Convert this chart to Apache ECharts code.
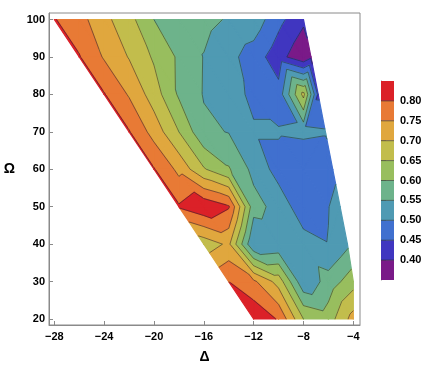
<!DOCTYPE html>
<html>
<head>
<meta charset="utf-8">
<script src="https://cdn.jsdelivr.net/npm/echarts@6/dist/echarts.min.js"></script>
<style>
  html, body { margin: 0; padding: 0; background: #fff; }
  #chart { width: 444px; height: 370px; }
</style>
</head>
<body>
<div id="chart"></div>
<script>
  // sampled rows of Omega, bottom to top
  var omegaRows = [20, 30, 40, 50, 60, 70, 80, 90, 100];
  // first and last Delta on each row, inner points every 2 in Delta
  var deltaStart = [-12, -14, -16, -18, -20, -22, -24, -26, -28];
  var deltaEnd = [-4, -4, -4.47, -5.06, -5.65, -6.24, -6.82, -7.4, -8];
  // values, one list per row (left to right)
  var zRows = [
    [0.84, 0.795, 0.65, 0.625, 0.72],
    [0.80, 0.76, 0.68, 0.51, 0.57, 0.63],
    [0.67, 0.71, 0.50, 0.51, 0.52, 0.502, 0.54],
    [0.805, 0.84, 0.805, 0.57, 0.53, 0.47, 0.498, 0.53],
    [0.803, 0.737, 0.655, 0.605, 0.535, 0.48, 0.46, 0.46, 0.48],
    [0.803, 0.73, 0.65, 0.56, 0.548, 0.505, 0.505, 0.51, 0.505],
    [0.803, 0.745, 0.675, 0.593, 0.547, 0.519, 0.49, 0.47, 0.665, 0.44],
    [0.803, 0.745, 0.697, 0.643, 0.592, 0.548, 0.515, 0.477, 0.42, 0.36, 0.39],
    [0.803, 0.769, 0.714, 0.667, 0.600, 0.575, 0.565, 0.545, 0.530, 0.465, 0.410]
  ];
  var levels = [0.40, 0.45, 0.50, 0.55, 0.60, 0.65, 0.70, 0.75, 0.80];
  var bandColors = ['#7a1a88', '#4036c0', '#4070cf', '#4f9ab3', '#6db38b',
                    '#98be5e', '#c2bd4c', '#e0a73e', '#e87a35', '#db2128'];
  var deltaTicks = [-28, -24, -20, -16, -12, -8, -4];
  var omegaTicks = [20, 30, 40, 50, 60, 70, 80, 90, 100];

  var lineColor = 'rgba(35,45,45,0.6)';
  var frameColor = '#8a8a8a';

  // points of one row: [delta, omega, z]
  function rowPoints(r) {
    var pts = [], k = 0;
    for (var d = deltaStart[r]; d < deltaEnd[r] - 0.3; d += 2) {
      pts.push([d, omegaRows[r], zRows[r][k++]]);
    }
    pts.push([deltaEnd[r], omegaRows[r], zRows[r][k++]]);
    return pts;
  }

  var rows = omegaRows.map(function (o, r) { return rowPoints(r); });

  // strip triangulation between neighbouring rows
  var triangles = [];
  for (var r = 0; r < rows.length - 1; r++) {
    var A = rows[r], B = rows[r + 1], i = 0, j = 0;
    while (i < A.length - 1 || j < B.length - 1) {
      var stepA;
      if (i == A.length - 1) stepA = false;
      else if (j == B.length - 1) stepA = true;
      else stepA = A[i + 1][0] <= B[j + 1][0];
      if (stepA) { triangles.push([A[i], A[i + 1], B[j]]); i++; }
      else { triangles.push([A[i], B[j + 1], B[j]]); j++; }
    }
  }

  function clip(poly, level, above) {
    var out = [];
    for (var k = 0; k < poly.length; k++) {
      var p = poly[k], q = poly[(k + 1) % poly.length];
      var pin = above ? p[2] >= level : p[2] <= level;
      var qin = above ? q[2] >= level : q[2] <= level;
      if (pin) out.push(p);
      if (pin !== qin) {
        var t = (level - p[2]) / (q[2] - p[2]);
        out.push([p[0] + t * (q[0] - p[0]), p[1] + t * (q[1] - p[1]), level]);
      }
    }
    return out;
  }

  function renderContours(params, api) {
    var fills = [], lines = [];
    triangles.forEach(function (tri) {
      for (var b = 0; b < bandColors.length; b++) {
        var poly = tri;
        if (b > 0) poly = clip(poly, levels[b - 1], true);
        if (b < levels.length && poly.length >= 3) poly = clip(poly, levels[b], false);
        if (poly.length < 3) continue;
        fills.push({
          type: 'polygon',
          shape: { points: poly.map(function (p) { return api.coord([p[0], p[1]]); }) },
          style: { fill: bandColors[b], stroke: bandColors[b], lineWidth: 1.2, lineJoin: 'round' }
        });
      }
    });
    levels.forEach(function (L) {
      triangles.forEach(function (tri) {
        var seg = [];
        for (var k = 0; k < 3; k++) {
          var p = tri[k], q = tri[(k + 1) % 3];
          if ((p[2] >= L) !== (q[2] >= L)) {
            var t = (L - p[2]) / (q[2] - p[2]);
            seg.push(api.coord([p[0] + t * (q[0] - p[0]), p[1] + t * (q[1] - p[1])]));
          }
        }
        if (seg.length == 2) {
          lines.push({
            type: 'line',
            shape: { x1: seg[0][0], y1: seg[0][1], x2: seg[1][0], y2: seg[1][1] },
            style: { stroke: lineColor, lineWidth: 0.9 }
          });
        }
      });
    });
    return { type: 'group', children: fills.concat(lines) };
  }

  // colour bar pieces: [x, low, high, band]
  var barData = bandColors.map(function (c, b) {
    return [0, b == 0 ? 0.35 : levels[b - 1], b == levels.length ? 0.85 : levels[b], b];
  });

  function renderBar(params, api) {
    var lo = api.value(1), hi = api.value(2), b = api.value(3);
    var p0 = api.coord([0, hi]), p1 = api.coord([1, lo]);
    var children = [{
      type: 'rect',
      shape: { x: p0[0], y: p0[1], width: p1[0] - p0[0], height: p1[1] - p0[1] },
      style: { fill: bandColors[b] }
    }];
    if (b > 0) {
      children.push({
        type: 'line',
        shape: { x1: p0[0], y1: p1[1], x2: p1[0], y2: p1[1] },
        style: { stroke: lineColor, lineWidth: 1 }
      });
    }
    return { type: 'group', children: children };
  }

  var labelFont = { fontFamily: 'Liberation Sans', fontWeight: 'bold', fontSize: 11, color: '#000' };

  var chart = echarts.init(document.getElementById('chart'));
  var option = {
    animation: false,
    grid: [
      { left: 49, right: 84, top: 13, bottom: 45, show: true, borderColor: frameColor, borderWidth: 1, outerBoundsMode: 'none' },
      { left: 381, width: 13, top: 81, height: 199, outerBoundsMode: 'none' }
    ],
    xAxis: [{
      type: 'value', min: -28.425, max: -3.463,
      name: 'Δ', nameLocation: 'middle', nameGap: 25,
      nameTextStyle: { fontFamily: 'Liberation Sans', fontWeight: 'bold', fontSize: 14, color: '#000' },
      axisLine: { show: true, lineStyle: { color: frameColor } },
      axisTick: { show: true, inside: true, length: 4, customValues: deltaTicks, lineStyle: { color: frameColor } },
      axisLabel: Object.assign({ customValues: deltaTicks, margin: 6,
        formatter: function (v) { return v < 0 ? '\u2212' + Math.abs(v) : '' + v; } }, labelFont),
      splitLine: { show: false }
    }, {
      gridIndex: 1, type: 'value', min: 0, max: 1, show: false
    }],
    yAxis: [{
      type: 'value', min: 18.4, max: 101.74,
      name: 'Ω', nameLocation: 'middle', nameGap: 34, nameRotate: 0,
      nameTextStyle: { fontFamily: 'Liberation Sans', fontWeight: 'bold', fontSize: 14, color: '#000' },
      axisLine: { show: true, lineStyle: { color: frameColor } },
      axisTick: { show: true, inside: true, length: 4, customValues: omegaTicks, lineStyle: { color: frameColor } },
      axisLabel: Object.assign({ customValues: omegaTicks, margin: 4 }, labelFont),
      splitLine: { show: false }
    }, {
      gridIndex: 1, type: 'value', min: 0.35, max: 0.85, position: 'right',
      axisLine: { show: true, lineStyle: { color: frameColor } },
      axisTick: { show: true, inside: false, length: 5, customValues: levels, lineStyle: { color: frameColor } },
      axisLabel: Object.assign({ customValues: levels, margin: 6,
        formatter: function (v) { return v.toFixed(2); } }, labelFont),
      splitLine: { show: false }
    }],
    series: [{
      type: 'custom',
      silent: true,
      xAxisIndex: 0, yAxisIndex: 0,
      data: [[-16, 60]],
      renderItem: renderContours
    }, {
      type: 'custom',
      silent: true,
      xAxisIndex: 1, yAxisIndex: 1,
      encode: { x: 0, y: [1, 2] },
      data: barData,
      renderItem: renderBar
    }]
  };
  chart.setOption(option);
</script>
</body>
</html>
